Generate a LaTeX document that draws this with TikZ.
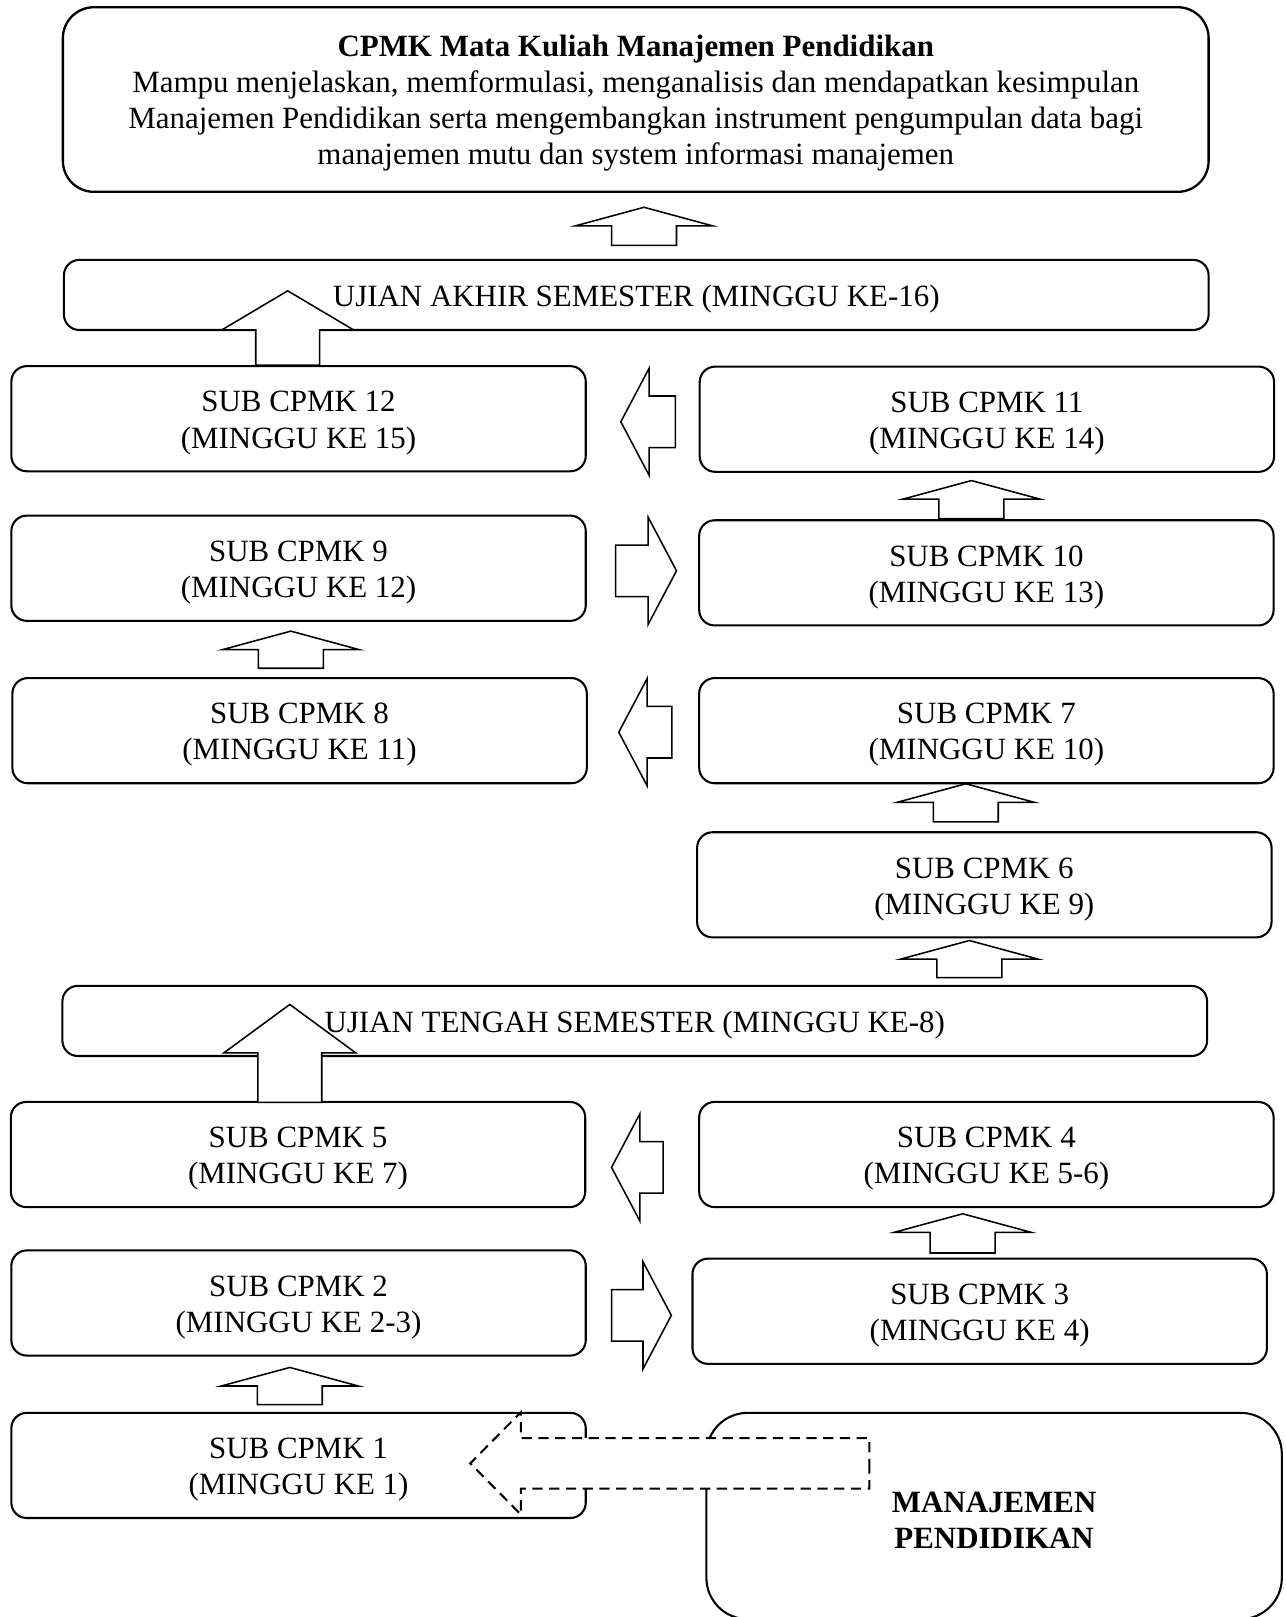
\documentclass[tikz,border=0pt]{standalone}
\usepackage{fontspec}
\setmainfont{Liberation Serif}
\usetikzlibrary{calc}
\newcommand{\upstrut}{\rule{0pt}{11.3pt}}

\begin{document}
\begin{tikzpicture}[x=0.4pt, y=-0.4pt]


\tikzset{every node/.style={font=\fontsize{12}{14}\selectfont, align=center, inner sep=0pt}}
\tikzset{subbox/.style={draw, rounded corners=6pt, line width=0.8pt, minimum width=222.8pt, minimum height=40.8pt}}
\tikzset{exambox/.style={subbox, minimum width=444pt, minimum height=27.2pt}}
\tikzset{goalbox/.style={draw, rounded corners=12pt, line width=0.9pt, minimum width=444.4pt, minimum height=71.6pt}}
\tikzset{topicbox/.style={draw, rounded corners=16pt, line width=0.8pt, minimum width=223.2pt, minimum height=80pt, font=\fontsize{12}{14}\selectfont\bfseries}}
\tikzset{blockarr/.style args={#1/#2/#3}{draw, fill=white, line width=0.6pt,
    to path={-- ($(\tikztostart)!#1!90:(\tikztotarget)$)
      -- ($(\tikztotarget)!#3!(\tikztostart)!#1!90:(\tikztotarget)$)
      -- ($(\tikztotarget)!#3!(\tikztostart)!#2!90:(\tikztotarget)$)
      -- (\tikztotarget)
      -- ($(\tikztotarget)!#3!(\tikztostart)!#2!-90:(\tikztotarget)$)
      -- ($(\tikztotarget)!#3!(\tikztostart)!#1!-90:(\tikztotarget)$)
      -- ($(\tikztostart)!#1!-90:(\tikztotarget)$)
      -- cycle}}}
\tikzset{uparrow/.style={blockarr=12.6pt/26.6pt/7.2pt}}
\tikzset{sidearrow/.style={blockarr=10pt/20.8pt/11pt}}
\tikzset{examarrow/.style={blockarr=12.4pt/25.6pt/#1}}
\tikzset{linkarrow/.style={blockarr=9.8pt/19.8pt/19.6pt, dashed, dash pattern=on 4pt off 2.5pt, line width=0.8pt}}
\useasboundingbox (0,0) rectangle (1247,1568);
\clip (0,0) rectangle (1247,1568);
\node[goalbox] (goal) at (616.5,96.5) {\upstrut\textbf{CPMK Mata Kuliah Manajemen Pendidikan}\\
  Mampu menjelaskan, memformulasi, menganalisis dan mendapatkan kesimpulan\\
  Manajemen Pendidikan serta mengembangkan instrument pengumpulan data bagi\\
  manajemen mutu dan system informasi manajemen};
\node[exambox] (uas) at (617,286) {\upstrut UJIAN AKHIR SEMESTER (MINGGU KE-16)};
\node[subbox] (sub12) at (289.5,406) {\upstrut SUB CPMK 12\\(MINGGU KE 15)};
\node[subbox] (sub11) at (957,406.5) {\upstrut SUB CPMK 11\\(MINGGU KE 14)};
\node[subbox] (sub9) at (289.5,551) {\upstrut SUB CPMK 9\\(MINGGU KE 12)};
\node[subbox] (sub10) at (956.5,555.5) {\upstrut SUB CPMK 10\\(MINGGU KE 13)};
\node[subbox] (sub8) at (290.5,708.5) {\upstrut SUB CPMK 8\\(MINGGU KE 11)};
\node[subbox] (sub7) at (956.5,708.5) {\upstrut SUB CPMK 7\\(MINGGU KE 10)};
\node[subbox] (sub6) at (954.5,858) {\upstrut SUB CPMK 6\\(MINGGU KE 9)};
\node[exambox] (uts) at (615.5,990) {\upstrut UJIAN TENGAH SEMESTER (MINGGU KE-8)};
\node[subbox] (sub5) at (289,1119.5) {\upstrut SUB CPMK 5\\(MINGGU KE 7)};
\node[subbox] (sub4) at (956.5,1119.5) {\upstrut SUB CPMK 4\\(MINGGU KE 5-6)};
\node[subbox] (sub2) at (289.5,1263.5) {\upstrut SUB CPMK 2\\(MINGGU KE 2-3)};
\node[subbox] (sub3) at (950,1271.5) {\upstrut SUB CPMK 3\\(MINGGU KE 4)};
\node[subbox] (sub1) at (289.5,1421) {\upstrut SUB CPMK 1\\(MINGGU KE 1)};
\node[topicbox] (topic) at (964,1470) {\upstrut MANAJEMEN\\PENDIDIKAN};
\coordinate (a0) at (624.5,238);
\coordinate (b0) at (624.5,201);
\coordinate (a1) at (279,354);
\coordinate (b1) at (279,282);
\coordinate (a2) at (655,409);
\coordinate (b2) at (602,409);
\coordinate (a3) at (942,503);
\coordinate (b3) at (942,466);
\coordinate (a4) at (597,553.5);
\coordinate (b4) at (656,553.5);
\coordinate (a5) at (282,648);
\coordinate (b5) at (282,612);
\coordinate (a6) at (651.5,710);
\coordinate (b6) at (600,710);
\coordinate (a7) at (936.5,797);
\coordinate (b7) at (936.5,760);
\coordinate (a8) at (940,948);
\coordinate (b8) at (940,912);
\coordinate (a9) at (281,1069);
\coordinate (b9) at (281,974);
\coordinate (a10) at (643,1132);
\coordinate (b10) at (593,1132);
\coordinate (a11) at (933.5,1215);
\coordinate (b11) at (933.5,1177);
\coordinate (a12) at (593,1275.5);
\coordinate (b12) at (651,1275.5);
\coordinate (a13) at (281,1362);
\coordinate (b13) at (281,1326);
\coordinate (a14) at (843,1419);
\coordinate (b14) at (456,1419);
\draw[uparrow] (a0) to (b0);
\draw[examarrow=15.2pt] (a1) to (b1);
\draw[sidearrow] (a2) to (b2);
\draw[uparrow] (a3) to (b3);
\draw[sidearrow] (a4) to (b4);
\draw[uparrow] (a5) to (b5);
\draw[sidearrow] (a6) to (b6);
\draw[uparrow] (a7) to (b7);
\draw[uparrow] (a8) to (b8);
\draw[examarrow=18.8pt] (a9) to (b9);
\draw[sidearrow] (a10) to (b10);
\draw[uparrow] (a11) to (b11);
\draw[sidearrow] (a12) to (b12);
\draw[uparrow] (a13) to (b13);
\draw[linkarrow] (a14) to (b14);

\end{tikzpicture}
\end{document}
